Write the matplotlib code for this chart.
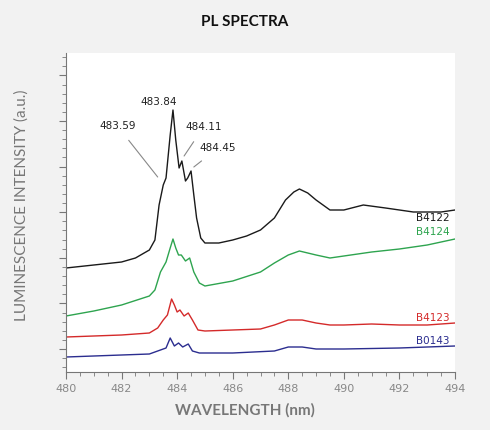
import numpy as np
import matplotlib
matplotlib.use("Agg")
import matplotlib.pyplot as plt
from matplotlib.ticker import MultipleLocator, FixedLocator

# wavelengths (nm) and intensities (a.u.)
wl_b4122 = [480, 481, 482, 482.5, 483, 483.2, 483.35, 483.5, 483.6, 483.75, 483.85, 483.95, 484.07, 484.17, 484.3, 484.38, 484.5, 484.6, 484.7, 484.85, 485, 485.5, 486, 486.5, 487, 487.5, 487.9, 488.2, 488.4, 488.7, 489, 489.5, 490, 490.7, 491.5, 492.5, 493.5, 494]
px_b4122 = [268, 265, 262, 258, 250, 240, 205, 185, 178, 135, 110, 140, 168, 161, 181, 178, 171, 195, 218, 238, 243, 243, 240, 236, 230, 218, 200, 192, 189, 193, 200, 210, 210, 205, 208, 212, 212, 210]
wl_b4124 = [480, 481, 482, 483, 483.2, 483.4, 483.6, 483.75, 483.85, 483.95, 484.05, 484.15, 484.3, 484.45, 484.6, 484.8, 485, 486, 487, 487.5, 488.0, 488.4, 489, 489.5, 490, 491, 492, 493, 494]
px_b4124 = [316, 311, 305, 296, 290, 272, 262, 248, 239, 248, 255, 255, 261, 258, 272, 283, 286, 281, 272, 263, 255, 251, 255, 258, 256, 252, 249, 245, 239]
wl_b4123 = [480, 482, 483, 483.3, 483.5, 483.65, 483.8, 483.9, 484.0, 484.1, 484.25, 484.4, 484.55, 484.75, 485, 486, 487, 487.5, 488, 488.5, 489, 489.5, 490, 491, 492, 493, 494]
px_b4123 = [337, 335, 333, 328, 320, 315, 299, 305, 312, 310, 316, 313, 320, 330, 331, 330, 329, 325, 320, 320, 323, 325, 325, 324, 325, 325, 323]
wl_b0143 = [480, 482, 483, 483.4, 483.6, 483.75, 483.9, 484.05, 484.2, 484.4, 484.55, 484.8, 486, 487.5, 488, 488.5, 489, 490, 492, 494]
px_b0143 = [357, 355, 354, 350, 348, 338, 346, 343, 347, 344, 351, 353, 353, 351, 347, 347, 349, 349, 348, 346]
names = ["B4122", "B4124", "B4123", "B0143"]
colors = ["#1a1a1a", "#2ea44f", "#d42a2a", "#2b2d8f"]

def au(px):
    return 372 - np.array(px, dtype=float)

fig = plt.figure(figsize=(4.9, 4.3), dpi=100, facecolor="#f2f2f2")
ax = fig.add_axes([66/490, 58/430, 389/490, 319/430])
ax.set_facecolor("white")
series = [(wl_b4122, px_b4122), (wl_b4124, px_b4124), (wl_b4123, px_b4123), (wl_b0143, px_b0143)]
for (w, p), c in zip(series, colors):
    ax.plot(w, au(p), color=c, lw=1.0)
labpos = [(494, 218), (494, 232), (494, 318), (494, 341)]
for n, c, (x, y) in zip(names, colors, labpos):
    ax.text(x - 0.2, 372 - y, n, color=c, ha="right", va="center", fontsize=7.5)

# peak annotations
gray = "#888888"
ax.text(483.35, 372 - 102, "483.84", ha="center", va="center", fontsize=7.5, color="#222")
ax.annotate("483.59", xy=(483.3, 372 - 177), xytext=(481.85, 372 - 126), ha="center", va="center",
            fontsize=7.5, color="#222", arrowprops=dict(arrowstyle="-", color=gray, lw=0.8, shrinkA=6, shrinkB=0))
ax.annotate("484.11", xy=(484.25, 372 - 156), xytext=(484.95, 372 - 127), ha="center", va="center",
            fontsize=7.5, color="#222", arrowprops=dict(arrowstyle="-", color=gray, lw=0.8, shrinkA=6, shrinkB=0))
ax.annotate("484.45", xy=(484.6, 372 - 167), xytext=(485.47, 372 - 148), ha="center", va="center",
            fontsize=7.5, color="#222", arrowprops=dict(arrowstyle="-", color=gray, lw=0.8, shrinkA=6, shrinkB=0))

ax.set_xlim(480, 494)
ax.set_ylim(0, 319)
ax.xaxis.set_major_locator(MultipleLocator(2))
ax.xaxis.set_minor_locator(MultipleLocator(0.5))
ax.yaxis.set_major_locator(FixedLocator([23 + 45.6 * k for k in range(7)]))
ax.yaxis.set_minor_locator(FixedLocator([23 + 9.12 * k for k in range(-2, 33)]))
ax.set_yticklabels([])
for s in ["top", "right"]:
    ax.spines[s].set_visible(False)
for s in ["left", "bottom"]:
    ax.spines[s].set_color("#777")
    ax.spines[s].set_linewidth(0.8)
ax.tick_params(which="both", colors="#777", labelcolor="#888", labelsize=8)
ax.tick_params(which="major", length=5)
ax.tick_params(which="minor", length=3)

fig.text(0.5, 1 - 22/430, "PL SPECTRA", ha="center", va="center", fontsize=11, fontweight="bold", family="Lato", color="#111")
fig.text(0.5, 1 - 410/430, "WAVELENGTH (nm)", ha="center", va="center", fontsize=11, fontweight="bold", family="Lato", color="#777")
fig.text(22/490, 0.5 + 10/430, "LUMINESCENCE INTENSITY (a.u.)", ha="center", va="center", rotation=90, fontsize=11, family="Lato", color="#777")
fig.savefig("out.png", dpi=100, facecolor=fig.get_facecolor())
